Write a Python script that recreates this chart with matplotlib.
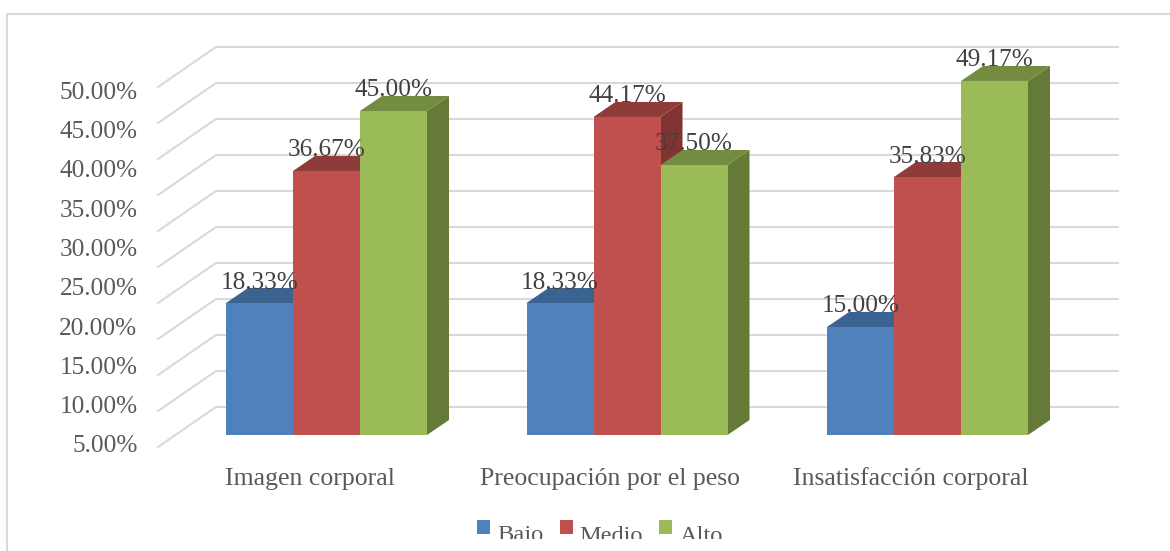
import matplotlib
matplotlib.use("Agg")
import matplotlib.pyplot as plt
from matplotlib.patches import Polygon, Patch
from matplotlib.lines import Line2D
from matplotlib.transforms import Bbox

categories = ["Imagen corporal", "Preocupación por el peso", "Insatisfacción corporal"]
series_names = ["Bajo", "Medio", "Alto"]
bajo = [18.33, 18.33, 15.00]
medio = [36.67, 44.17, 35.83]
alto = [45.00, 37.50, 49.17]
axis_labels = ["5.00%", "10.00%", "15.00%", "20.00%", "25.00%",
               "30.00%", "35.00%", "40.00%", "45.00%", "50.00%"]
grid_values = [0, 5, 10, 15, 20, 25, 30, 35, 40, 45, 50]

front = ["#4F81BD", "#C0504D", "#9BBB59"]
top = ["#3A6391", "#8F3B39", "#748C42"]
side = ["#2F5078", "#803331", "#657A37"]
GRID = "#D9D9D9"
FONT = "Liberation Serif"
W, H = 1170, 551

fig = plt.figure(figsize=(W / 100, H / 100), dpi=100, facecolor="white")
L, R, T, B = 150, 1130, 20, 455
ax = fig.add_axes([L / W, 1 - B / H, (R - L) / W, (B - T) / H])
PX_X, PX_Y = 300.5, 7.2          # pixels per category / per percent
X0, Y0 = 326.5, 435
ax.set_xlim((L - X0) / PX_X, (R - X0) / PX_X)
ax.set_ylim((Y0 - B) / PX_Y, (Y0 - T) / PX_Y)
for s in ax.spines.values():
    s.set_visible(False)
ax.patch.set_alpha(0)

bw = 67 / PX_X
ddx, ddy = 22 / PX_X, 15 / PX_Y

# walls: gridlines with the floor-side diagonal
gx0, gx1, gx2 = (158 - X0) / PX_X, (216 - X0) / PX_X, (1118 - X0) / PX_X
gyf, gyb = -12 / PX_Y, 28 / PX_Y
for v in grid_values:
    ax.plot([gx0, gx1, gx2], [v + gyf, v + gyb, v + gyb], color=GRID, lw=1.5,
            solid_joinstyle="miter", zorder=1, clip_on=False)

# bars
all_series = [bajo, medio, alto]
for i in range(len(categories)):
    for j, vals in enumerate(all_series):
        x = i + (j - 1.5) * bw
        v = vals[i]
        z = 2 + j * 0.1
        ax.add_patch(Polygon([(x + bw, 0), (x + bw + ddx, ddy), (x + bw + ddx, v + ddy), (x + bw, v)],
                             closed=True, fc=side[j], ec="none", zorder=z))
        ax.add_patch(Polygon([(x, v), (x + ddx, v + ddy), (x + bw + ddx, v + ddy), (x + bw, v)],
                             closed=True, fc=top[j], ec="none", zorder=z))
        ax.bar(x, v, width=bw, align="edge", color=front[j], zorder=z + 0.01)
        ax.text(x + bw / 2, v + 20.5 / PX_Y, f"{v:.2f}%", ha="center", va="center",
                family=FONT, fontsize=18.2, color="#404040", zorder=5)

# value-axis text sits on its own spacing in the reference
label_pos = [(Y0 - (444 - k * 39.33)) / PX_Y for k in range(len(axis_labels))]
ax.set_yticks(label_pos, axis_labels, family=FONT, fontsize=18.2, color="#595959")
ax.tick_params(axis="y", length=0, pad=9)
ax.set_xticks([i - 17 / PX_X for i in range(len(categories))], categories,
              family=FONT, fontsize=18.5, color="#595959")
ax.tick_params(axis="x", length=0, pad=9)

# outer frame (open on the right and bottom, cropped picture)
fig.add_artist(Line2D([7 / W, 7 / W, 1], [0, 1 - 14 / H, 1 - 14 / H], color=GRID, lw=1.5,
                      solid_joinstyle="miter", transform=fig.transFigure))

# legend, cropped at the bottom as in the reference
handles = [Patch(fc=c, ec="none", label=n) for c, n in zip(front, series_names)]
leg = fig.legend(handles=handles, loc="center", bbox_to_anchor=(600 / W, 1 - 536 / H), ncols=3,
                 frameon=False, prop={"family": FONT, "size": 17.6}, labelcolor="#595959",
                 handlelength=0.53, handleheight=0.53, handletextpad=0.29, columnspacing=0.66)
for t in leg.get_texts():
    t.set_clip_on(True)
    t.set_clip_box(Bbox([[0, H - 539], [W, H]]))
for h in leg.legend_handles:
    h.set_y(h.get_y() + 4.3)

fig.savefig("out.png", dpi=100, facecolor="white")
